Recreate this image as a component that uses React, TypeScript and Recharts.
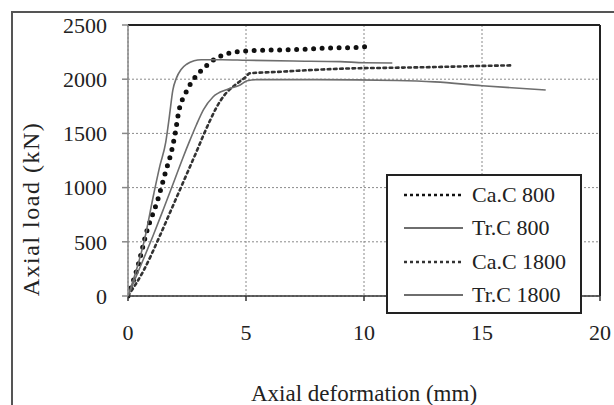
import { LineChart, Line, XAxis, YAxis, CartesianGrid, Legend, ReferenceLine, Label } from 'recharts';

// axis ticks
const xTicks = [0, 5, 10, 15, 20];
const yTicks = [0, 500, 1000, 1500, 2000, 2500];

// Ca.C 800 (large dots)
const caC800X = [0, 0.4, 0.8, 1.25, 1.6, 1.85, 2.0, 2.15, 2.45, 2.7, 2.95, 3.35, 3.75, 4.2, 4.7, 5.1, 5.9, 7.0, 8.0, 8.8, 9.5, 10.1];
const caC800Y = [0, 260, 600, 880, 1150, 1340, 1500, 1700, 1875, 1975, 2045, 2130, 2195, 2235, 2255, 2262, 2268, 2272, 2282, 2290, 2292, 2300];

// Tr.C 800 (solid)
const trC800X = [0, 0.7, 1.1, 1.35, 1.6, 1.75, 1.9, 2.05, 2.25, 2.5, 2.8, 3.1, 4.0, 5.0, 7.0, 9.0, 10.0, 11.2];
const trC800Y = [0, 520, 950, 1200, 1420, 1650, 1900, 2010, 2090, 2140, 2170, 2180, 2180, 2175, 2168, 2162, 2152, 2150];

// Ca.C 1800 (small dots)
const caC1800X = [0, 0.65, 1.36, 1.8, 2.2, 2.6, 2.9, 3.19, 3.5, 3.75, 4.11, 4.53, 4.96, 5.17, 6.2, 7.8, 9.3, 11.0, 13.0, 14.5, 16.3];
const caC1800Y = [0, 230, 560, 780, 980, 1180, 1330, 1480, 1630, 1740, 1860, 1945, 2016, 2055, 2066, 2085, 2099, 2105, 2112, 2120, 2128];

// Tr.C 1800 (solid)
const trC1800X = [0, 0.5, 1.07, 1.5, 1.92, 2.3, 2.63, 2.9, 3.2, 3.6, 4.2, 4.75, 5.05, 5.5, 8.0, 11.4, 13.0, 15.0, 17.7];
const trC1800Y = [0, 260, 560, 800, 1040, 1260, 1440, 1580, 1720, 1836, 1905, 1946, 1985, 1996, 1996, 1988, 1975, 1940, 1900];

const toPoints = (xs: number[], ys: number[]) => xs.map((x, i) => ({ x, y: ys[i] }));

const FONT = '"Liberation Serif", "Times New Roman", serif';

const series = [
  { name: 'Ca.C 800', data: toPoints(caC800X, caC800Y), stroke: '#111', width: 5, dash: '0 8.5', legendDash: '3 3', legendWidth: 2.5 },
  { name: 'Tr.C 800', data: toPoints(trC800X, trC800Y), stroke: '#6e6e6e', width: 1.6, dash: undefined, legendDash: undefined, legendWidth: 2 },
  { name: 'Ca.C 1800', data: toPoints(caC1800X, caC1800Y), stroke: '#333', width: 2.6, dash: '2.6 3.6', legendDash: '3 3', legendWidth: 2.5 },
  { name: 'Tr.C 1800', data: toPoints(trC1800X, trC1800Y), stroke: '#6e6e6e', width: 1.6, dash: undefined, legendDash: undefined, legendWidth: 2 },
];

function LegendBox() {
  return (
    <div
      style={{
        width: 192,
        height: 134,
        border: '2px solid #222',
        background: '#fff',
        fontFamily: FONT,
        fontSize: 22,
        color: '#222',
        paddingTop: 2,
        boxSizing: 'content-box',
      }}
    >
      {series.map((s) => (
        <div key={s.name} style={{ display: 'flex', alignItems: 'center', height: 33.5 }}>
          <svg width={84} height={10} style={{ display: 'block' }}>
            <line
              x1={16}
              x2={75}
              y1={5}
              y2={5}
              stroke={s.stroke}
              strokeWidth={s.legendWidth}
              strokeDasharray={s.legendDash}
            />
          </svg>
          <span style={{ lineHeight: '22px' }}>{s.name}</span>
        </div>
      ))}
    </div>
  );
}

export default function App() {
  return (
    <div style={{ position: 'absolute', left: 0, top: 0, width: 614, height: 405, background: '#fff', overflow: 'hidden' }}>
      <style>{`.chart-serif text, .chart-serif tspan { font-family: ${FONT} !important; }`}</style>
      {/* outer frame */}
      <div
        style={{
          position: 'absolute',
          left: 11,
          top: 11,
          width: 620,
          height: 420,
          borderTop: '2px solid #555',
          borderLeft: '2px solid #555',
        }}
      />
      <LineChart
        className="chart-serif"
        width={614}
        height={405}
        margin={{ top: 25, right: 14, bottom: 79, left: 0 }}
      >
        <CartesianGrid stroke="#8a8a8a" strokeDasharray="2 2" />
        <XAxis
          type="number"
          dataKey="x"
          domain={[0, 20]}
          ticks={xTicks}
          interval={0}
          allowDataOverflow
          stroke="#333"
          strokeWidth={1.5}
          tickSize={5}
          tickMargin={23}
          tick={{ fontFamily: FONT, fontSize: 22, fill: '#222' }}
        >
          <Label
            content={() => (
              <text x={364} y={401} textAnchor="middle" fontFamily={FONT} fontSize={23} fill="#222">
                Axial deformation (mm)
              </text>
            )}
          />
        </XAxis>
        <YAxis
          type="number"
          dataKey="y"
          domain={[0, 2500]}
          ticks={yTicks}
          interval={0}
          width={128}
          stroke="#888"
          strokeWidth={1.5}
          tickSize={6}
          tickMargin={15}
          tick={{ fontFamily: FONT, fontSize: 22, fill: '#222' }}
        >
          <Label
            content={() => (
              <text
                x={31}
                y={209}
                transform="rotate(-90 31 209)"
                textAnchor="middle"
                dominantBaseline="central"
                fontFamily={FONT}
                fontSize={24}
                letterSpacing={1.5}
                fill="#222"
              >
                Axial load (kN)
              </text>
            )}
          />
        </YAxis>
        <ReferenceLine y={2500} stroke="#222" strokeWidth={2} />
        <ReferenceLine x={20} stroke="#222" strokeWidth={2} />
        {series.map((s) => (
          <Line
            key={s.name}
            name={s.name}
            data={s.data}
            dataKey="y"
            type="monotone"
            stroke={s.stroke}
            strokeWidth={s.width}
            strokeDasharray={s.dash}
            strokeLinecap={s.dash ? 'round' : 'butt'}
            dot={false}
            activeDot={false}
            isAnimationActive={false}
          />
        ))}
        <Legend
          layout="vertical"
          align="center"
          verticalAlign="middle"
          content={() => <LegendBox />}
          wrapperStyle={{ left: 386, top: 174, width: 196, right: 'auto', bottom: 'auto' }}
        />
      </LineChart>
    </div>
  );
}
